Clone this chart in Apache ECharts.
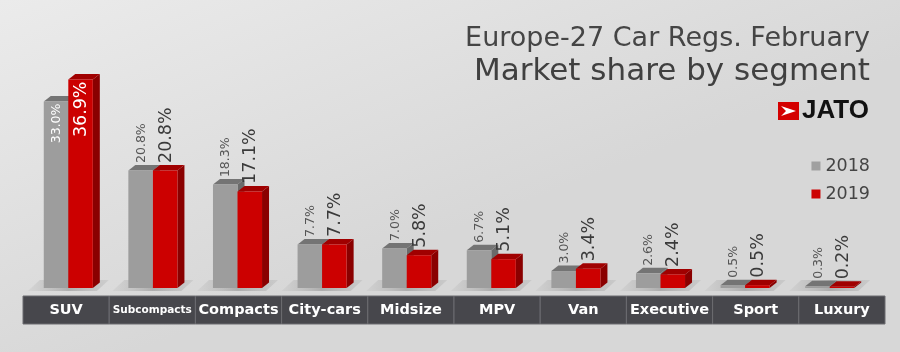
<!DOCTYPE html>
<html>
<head>
<meta charset="utf-8">
<script src="https://cdn.jsdelivr.net/npm/echarts@6/dist/echarts.min.js"></script>
<style>html,body{margin:0;padding:0;}#chart{width:900px;height:352px;}</style>
</head>
<body>
<div id="chart"></div>
<script>
const categories = ['SUV','Subcompacts','Compacts','City-cars','Midsize','MPV','Van','Executive','Sport','Luxury'];
const share2018 = [33.0,20.8,18.3,7.7,7.0,6.7,3.0,2.6,0.5,0.3];
const share2019 = [36.9,20.8,17.1,7.7,5.8,5.1,3.4,2.4,0.5,0.2];
const seriesNames = ['2018','2019'];
const titleLine1 = 'Europe-27 Car Regs. February';
const titleLine2 = 'Market share by segment';

const FONT = '"DejaVu Sans", "Open Sans", sans-serif';
const DX = 7, DY = 5.5;

function barRenderer(side, front, topC, sideC, lblSize, lblColor, inSize) {
  return function (params, api) {
    const i = api.value(0), v = api.value(1);
    const base = api.coord([i, 0]);
    const top = api.coord([i, v]);
    const band = api.size([1, 0])[0];
    const w = band * 0.29;
    const x0 = side === 0 ? base[0] - w : base[0];
    const x1 = x0 + w;
    const yT = top[1], yB = base[1];
    const cx = (x0 + x1) / 2;
    const inside = v > 30;
    const label = {
      type: 'text',
      x: cx + 1,
      y: inside ? yT + 2 : yT - DY - 2,
      rotation: Math.PI / 2,
      z2: 20,
      style: {
        text: v.toFixed(1) + '%',
        fill: inside ? '#ffffff' : lblColor,
        fontSize: inside ? inSize : lblSize,
        fontFamily: FONT,
        align: inside ? 'right' : 'left',
        verticalAlign: 'middle'
      }
    };
    return {
      type: 'group',
      children: [
        { type: 'polygon', shape: { points: [[x1, yB], [x1 + DX, yB - DY], [x1 + DX, yT - DY], [x1, yT]] }, style: { fill: sideC } },
        { type: 'polygon', shape: { points: [[x0, yT], [x1, yT], [x1 + DX, yT - DY], [x0 + DX, yT - DY]] }, style: { fill: topC } },
        { type: 'rect', shape: { x: x0, y: yT, width: w, height: yB - yT }, style: { fill: front } },
        label
      ]
    };
  };
}

function floorRenderer(params, api) {
  const i = api.value(0);
  const base = api.coord([i, 0]);
  const band = api.size([1, 0])[0];
  const w = band * 0.29;
  const cx = base[0], yB = base[1];
  return {
    type: 'polygon',
    shape: { points: [[cx - w - 16, yB + 3], [cx + w + 4, yB + 3], [cx + w + 16, yB - 8], [cx - w - 4, yB - 8]] },
    style: {
      fill: {
        type: 'linear', x: 0, y: 0, x2: 1, y2: 0,
        colorStops: [
          { offset: 0, color: 'rgba(170,170,170,0.15)' },
          { offset: 0.5, color: 'rgba(120,120,120,0.45)' },
          { offset: 1, color: 'rgba(150,150,150,0.2)' }
        ]
      }
    }
  };
}

function bandRenderer(params, api) {
  const i = api.value(0);
  const p1 = api.coord([i, 1]);
  const p0 = api.coord([i, 0]);
  const bw = api.size([1, 0])[0];
  const name = categories[i];
  return {
    type: 'group',
    children: [
      { type: 'rect', shape: { x: p1[0] - bw / 2, y: p1[1], width: bw, height: p0[1] - p1[1] },
        style: { fill: '#47474c', stroke: '#6c6c70', lineWidth: 1 } },
      { type: 'text', x: p1[0], y: (p0[1] + p1[1]) / 2,
        style: { text: name, fill: '#ffffff', fontSize: name.length > 10 ? 10.5 : 14.5, fontWeight: 'bold',
                 fontFamily: FONT, align: 'center', verticalAlign: 'middle' } }
    ]
  };
}

const chart = echarts.init(document.getElementById('chart'));
chart.setOption({
  animation: false,
  backgroundColor: {
    type: 'linear', x: 0, y: 0, x2: 0.15, y2: 1,
    colorStops: [{ offset: 0, color: '#ebebeb' }, { offset: 1, color: '#d7d7d7' }]
  },
  grid: [
    { left: 26, right: 28, top: 62, bottom: 64 },
    { left: 23, right: 15, top: 296, height: 28 }
  ],
  xAxis: [
    { type: 'category', gridIndex: 0, data: categories, show: false },
    { type: 'category', gridIndex: 1, data: categories, show: false }
  ],
  yAxis: [
    { type: 'value', gridIndex: 0, min: 0, max: 40, show: false },
    { type: 'value', gridIndex: 1, min: 0, max: 1, show: false }
  ],
  legend: {
    data: seriesNames, orient: 'vertical', right: 25, top: 152,
    itemWidth: 9, itemHeight: 9, itemGap: 10, icon: 'rect',
    textStyle: { fontSize: 17.5, color: '#444', fontFamily: FONT }
  },
  graphic: [
    { type: 'text', right: 30, top: 25, style: { text: titleLine1, fontSize: 27, fill: '#454545', fontFamily: FONT } },
    { type: 'text', right: 30, top: 56, style: { text: titleLine2, fontSize: 31, fill: '#404040', fontFamily: FONT } },
    { type: 'rect', left: 778, top: 102, shape: { width: 21, height: 18 }, style: { fill: '#d40000' } },
    { type: 'polygon', shape: { points: [[781, 106], [796, 111], [781, 116], [786, 111]] }, style: { fill: '#ffffff' } },
    { type: 'text', left: 802, top: 98, style: { text: 'JATO', fontSize: 26, fontWeight: 900, fill: '#111', fontFamily: '"Liberation Sans", Arial, sans-serif' } }
  ],
  series: [
    { type: 'custom', name: 'floor', xAxisIndex: 0, yAxisIndex: 0, silent: true,
      data: categories.map((c, i) => [i, 0]), renderItem: floorRenderer },
    { type: 'custom', name: seriesNames[0], xAxisIndex: 0, yAxisIndex: 0,
      itemStyle: { color: '#a0a0a0' },
      data: share2018.map((v, i) => [i, v]), encode: { x: 0, y: 1 },
      renderItem: barRenderer(0, '#9d9d9d', '#747474', '#6a6a6a', 12.5, '#555555', 12.5) },
    { type: 'custom', name: seriesNames[1], xAxisIndex: 0, yAxisIndex: 0,
      itemStyle: { color: '#cc0000' },
      data: share2019.map((v, i) => [i, v]), encode: { x: 0, y: 1 },
      renderItem: barRenderer(1, '#cc0000', '#a00000', '#8a0000', 17.5, '#3a3a3a', 17.5) },
    { type: 'custom', name: 'band', xAxisIndex: 1, yAxisIndex: 1, silent: true,
      data: categories.map((c, i) => [i, 1]), renderItem: bandRenderer }
  ]
});
</script>
</body>
</html>
